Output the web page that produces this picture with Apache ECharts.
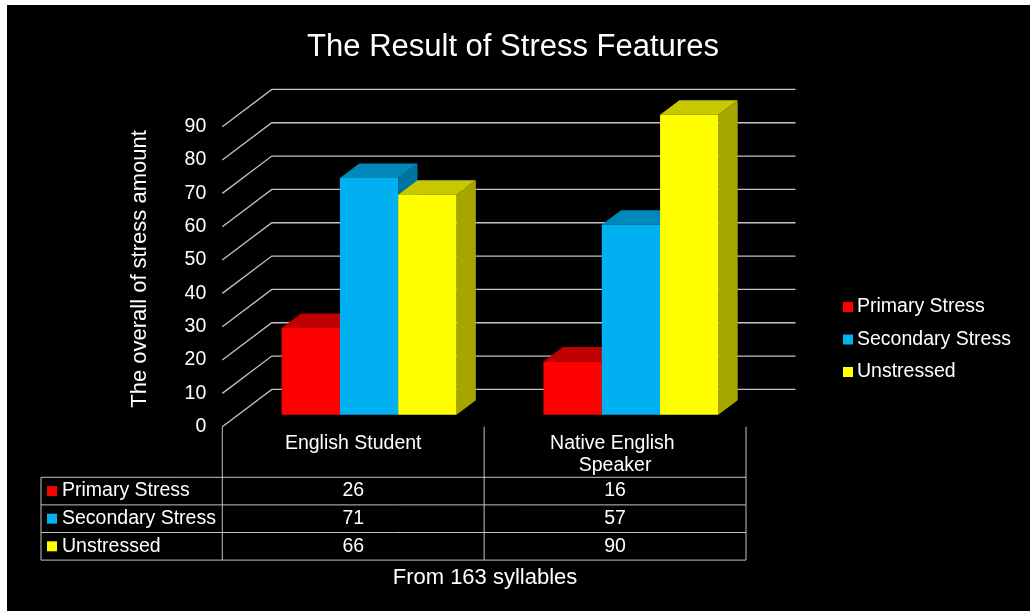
<!DOCTYPE html>
<html>
<head>
<meta charset="utf-8">
<script src="https://cdn.jsdelivr.net/npm/echarts@6/dist/echarts.min.js"></script>
<style>
  html, body { margin: 0; padding: 0; background: #ffffff; width: 1030px; height: 611px; overflow: hidden; }
  #chart { position: absolute; left: 7px; top: 5px; width: 1023px; height: 606px; background: #000; }
</style>
</head>
<body>
<div id="chart"></div>
<script>
// ---------------- data ----------------
const titleText = 'The Result of Stress Features';
const yAxisTitle = 'The overall of stress amount';
const footerText = 'From 163 syllables';
const categories = ['English Student', 'Native English Speaker'];
const seriesNames = ['Primary Stress', 'Secondary Stress', 'Unstressed'];
const primaryStress = [26, 16];
const secondaryStress = [71, 57];
const unstressed = [66, 90];
const yTicks = [0, 10, 20, 30, 40, 50, 60, 70, 80, 90];

// ---------------- styles ----------------
const FONT = 'Liberation Sans, Arial, sans-serif';
const TEXT = '#ffffff';
const LINE = '#c4c4c4';
const faceColors = [
  { front: '#ff0000', top: '#c00000', side: '#a00000' },
  { front: '#00b0f0', top: '#0088ba', side: '#0072a0' },
  { front: '#ffff00', top: '#c8c800', side: '#a6a600' }
];
const DEPTH_X = 49.5, DEPTH_Y = -37.3;   // back wall offset (px)
const FRONT_FRAC = 0.32;                  // bar front face depth
const BAR_DEPTH_FRAC = 0.39;              // bar depth
const BAR_FRAC = 0.2227;                  // bar width / band width

const seriesValues = [primaryStress, secondaryStress, unstressed];

const chart = echarts.init(document.getElementById('chart'), null, { renderer: 'canvas' });

function gridRender(params, api) {
  const cs = params.coordSys;
  const v = api.value(1);
  const y = api.coord([0, v])[1];
  const left = cs.x, right = cs.x + cs.width;
  return {
    type: 'polyline',
    shape: { points: [[left, y], [left + DEPTH_X, y + DEPTH_Y], [right + DEPTH_X, y + DEPTH_Y]] },
    style: { stroke: LINE, lineWidth: 1.3, fill: null }
  };
}

function barRender(s) {
  return function (params, api) {
    const i = api.value(0), v = api.value(1);
    const base = api.coord([i, 0]);
    const topP = api.coord([i, v]);
    const bw = api.size([1, 0])[0];
    const barW = bw * BAR_FRAC;
    const fx = DEPTH_X * FRONT_FRAC, fy = DEPTH_Y * FRONT_FRAC;
    const dx = DEPTH_X * BAR_DEPTH_FRAC, dy = DEPTH_Y * BAR_DEPTH_FRAC;
    const x0 = base[0] - 1.5 * barW + s * barW + fx;
    const x1 = x0 + barW;
    const yb = base[1] + fy;
    const yt = topP[1] + fy;
    const c = faceColors[s];
    return {
      type: 'group',
      children: [
        { type: 'polygon', shape: { points: [[x1, yt], [x1 + dx, yt + dy], [x1 + dx, yb + dy], [x1, yb]] }, style: { fill: c.side } },
        { type: 'polygon', shape: { points: [[x0, yt], [x1, yt], [x1 + dx, yt + dy], [x0 + dx, yt + dy]] }, style: { fill: c.top } },
        { type: 'rect', shape: { x: x0, y: yt, width: barW, height: yb - yt }, style: { fill: c.front } }
      ]
    };
  };
}

const series = [{
  type: 'custom', name: '__grid', z: 1, silent: true,
  renderItem: gridRender,
  data: yTicks.map(v => [0, v]),
  encode: { x: 0, y: 1 }
}];
seriesNames.forEach((name, s) => {
  series.push({
    type: 'custom', name: name, z: 2 + s,
    itemStyle: { color: faceColors[s].front },
    renderItem: barRender(s),
    data: seriesValues[s].map((v, i) => [i, v]),
    encode: { x: 0, y: 1 }
  });
});

const GRID = { left: 215.3, right: 284, top: 121.7, bottom: 184.3 };

chart.setOption({
  backgroundColor: '#000000',
  animation: false,
  title: {
    text: titleText, left: 501, top: 22, textAlign: 'center',
    textStyle: { color: TEXT, fontFamily: FONT, fontSize: 31, fontWeight: 'normal' }
  },
  legend: {
    data: seriesNames, orient: 'vertical', left: 831, top: 287,
    icon: 'rect', itemWidth: 10, itemHeight: 10, itemGap: 12.5,
    textStyle: { color: TEXT, fontFamily: FONT, fontSize: 19.5, lineHeight: 20, padding: [0, 0, 0, -1] }
  },
  grid: GRID,
  xAxis: {
    type: 'category', data: categories,
    axisLine: { show: false }, axisTick: { show: false }, splitLine: { show: false },
    axisLabel: { interval: 0, hideOverlap: false, color: TEXT, fontFamily: FONT, fontSize: 19.5, lineHeight: 22, margin: 6, width: 160, overflow: 'break' }
  },
  yAxis: {
    type: 'value', min: 0, max: 90, interval: 10,
    axisLine: { show: false }, axisTick: { show: false }, splitLine: { show: false },
    axisLabel: { color: TEXT, fontFamily: FONT, fontSize: 19.5, margin: 16 }
  },
  series: series
});

// ---------- data table, axis title and footer (positioned from the axis scale) ----------
const centers = categories.map((c, i) => chart.convertToPixel({ xAxisIndex: 0 }, i));
const band = centers.length > 1 ? centers[1] - centers[0] : 260;
const colEdges = [centers[0] - band / 2].concat(centers.map(c => c + band / 2));
const y0 = chart.convertToPixel({ yAxisIndex: 0 }, 0);
const TABLE_LEFT = 34;
const ROW_TOP = y0 + 50.6, ROW_H = 27.6;
const elements = [];
const tableBottom = ROW_TOP + ROW_H * seriesNames.length;
colEdges.forEach(x => elements.push({ type: 'line', shape: { x1: x, y1: y0, x2: x, y2: tableBottom }, style: { stroke: LINE, lineWidth: 1 } }));
elements.push({ type: 'line', shape: { x1: TABLE_LEFT, y1: ROW_TOP, x2: TABLE_LEFT, y2: tableBottom }, style: { stroke: LINE, lineWidth: 1 } });
for (let r = 0; r <= seriesNames.length; r++) {
  const y = ROW_TOP + r * ROW_H;
  elements.push({ type: 'line', shape: { x1: TABLE_LEFT, y1: y, x2: colEdges[colEdges.length - 1], y2: y }, style: { stroke: LINE, lineWidth: 1 } });
}
seriesNames.forEach((name, r) => {
  const cy = ROW_TOP + r * ROW_H + ROW_H / 2;
  elements.push({ type: 'rect', shape: { x: TABLE_LEFT + 6, y: cy - 5, width: 10, height: 10 }, style: { fill: faceColors[r].front } });
  elements.push({ type: 'text', x: TABLE_LEFT + 21, y: cy, style: { text: name, fill: TEXT, font: '19.5px ' + FONT, textAlign: 'left', textVerticalAlign: 'middle' } });
  seriesValues[r].forEach((v, i) => {
    elements.push({ type: 'text', x: centers[i], y: cy, style: { text: String(v), fill: TEXT, font: '19.5px ' + FONT, textAlign: 'center', textVerticalAlign: 'middle' } });
  });
});
elements.push({ type: 'text', x: 478, y: tableBottom + 18, style: { text: footerText, fill: TEXT, font: '22px ' + FONT, textAlign: 'center', textVerticalAlign: 'middle' } });
elements.push({ type: 'text', x: 133, y: 264, rotation: Math.PI / 2, style: { text: yAxisTitle, fill: TEXT, font: '22px ' + FONT, textAlign: 'center', textVerticalAlign: 'middle' } });
chart.setOption({ graphic: { elements: elements } });
</script>
</body>
</html>
